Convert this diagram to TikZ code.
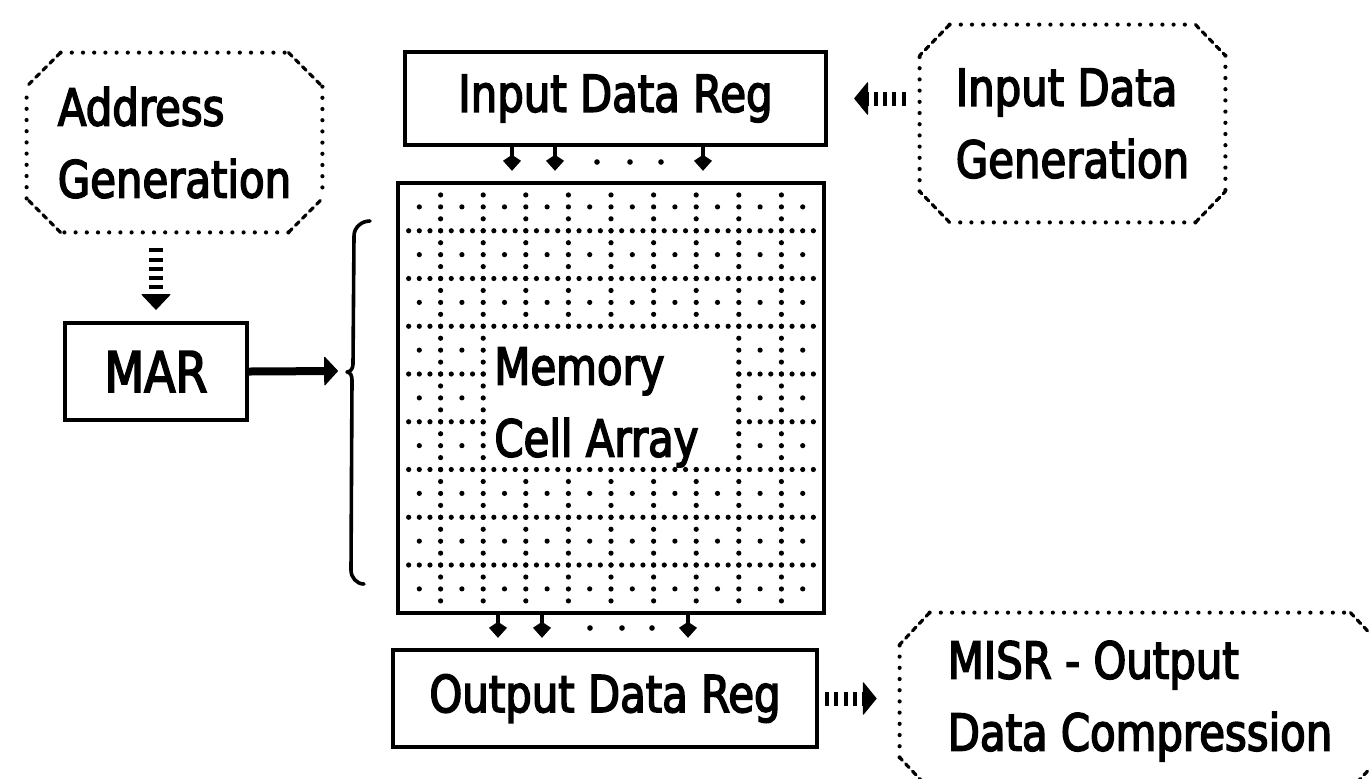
\documentclass[tikz,border=0pt]{standalone}
\usepackage{fontspec}
\newfontfamily\dgfont[FakeStretch=0.82,FakeBold=3]{DejaVu Sans}
\usetikzlibrary{arrows.meta,calc}
\newcommand\chamferbox[3]{%
  \draw[dotline] ($(#1.north west)+(#2,0)$) -- ($(#1.north east)+(-#2,0)$);
  \draw[dotline] ($(#1.north east)+(0,#3)$) -- ($(#1.south east)+(0,-#3)$);
  \draw[dotline] ($(#1.south east)+(-#2,0)$) -- ($(#1.south west)+(#2,0)$);
  \draw[dotline] ($(#1.south west)+(0,-#3)$) -- ($(#1.north west)+(0,#3)$);
  \draw[diagline] ($(#1.north west)+(#2,0)$) -- ($(#1.north west)+(0,#3)$);
  \draw[diagline] ($(#1.north east)+(-#2,0)$) -- ($(#1.north east)+(0,#3)$);
  \draw[diagline] ($(#1.south east)+(-#2,0)$) -- ($(#1.south east)+(0,-#3)$);
  \draw[diagline] ($(#1.south west)+(#2,0)$) -- ($(#1.south west)+(0,-#3)$);
}
\begin{document}
\begin{tikzpicture}[x=0.5pt,y=-0.5pt,
  lblfont/.style={font=\dgfont\fontsize{25.5}{36}\selectfont},
  txt/.style={lblfont, inner sep=0pt, align=left},
  regbox/.style={lblfont, draw, line width=2.2pt, inner sep=0pt},
  genbox/.style={lblfont, inner sep=0pt, align=left},
  dotline/.style={line width=2.1pt, line cap=round, dash pattern=on 0pt off 5.6pt},
  diagline/.style={line width=1.6pt, line cap=round, dash pattern=on 2.5pt off 2.5pt},
  hflow/.style={line width=7pt, dash pattern=on 2pt off 2.6pt,
    -{Triangle[width=17pt,length=7pt,line width=0.5pt,round]}},
  vflow/.style={line width=7pt, dash pattern=on 2pt off 2.6pt,
    -{Triangle[width=15pt,length=8pt,line width=0.5pt,round]}},
  busarrow/.style={line width=4pt, -{Triangle[width=15pt,length=7pt,line width=0.5pt,round]}},
  bitarrow/.style={line width=1.8pt, -{Kite[width=9pt,length=8pt,inset=3pt]}},
  bracepath/.style={line width=1.8pt, line cap=round, line join=round}
]
\useasboundingbox (0,0) rectangle (1369,778);
\fill[white] (0,0) rectangle (1369,778);
\clip (0,0) rectangle (1369,778);

% memory cell grid dots
\foreach \j in {1,...,8}{\foreach \m in {1,...,39}{\fill ({398+10.65*\m},{183+47.75*\j}) circle[radius=1.3pt];}}
\foreach \k in {1,...,9}{\foreach \m in {1,...,35}{\fill ({398+42.6*\k},{183+11.94*\m}) circle[radius=1.3pt];}}
\foreach \k in {0,...,9}{\foreach \j in {0,...,8}{\fill ({398+42.6*(\k+0.5)},{183+47.75*(\j+0.5)}) circle[radius=1.3pt];}}
\fill[white] (488,331) rectangle (734,465);
\node[txt, anchor=north west] (memtext) at (494,347) {Memory\\Cell Array};

% boxes
\node[regbox, minimum width=210.5pt, minimum height=46.5pt] (idr) at (615.5,98.5) {Input Data Reg};
\node[regbox, minimum width=213pt, minimum height=215pt] (mem) at (611,398) {};
\node[regbox, minimum width=212pt, minimum height=48.5pt] (odr) at (605,698.5) {Output Data Reg};
\node[regbox, minimum width=91pt, minimum height=48.5pt, font=\dgfont\fontsize{28}{36}\selectfont] (mar) at (156,371.5) {MAR};
\node[genbox, minimum width=147.5pt, minimum height=89.5pt] (addr) at (174.5,142.5) {Address\\Generation};
\node[genbox, minimum width=152.5pt, minimum height=98.5pt] (idg) at (1072.5,123.5) {Input Data\\Generation};
\node[genbox, minimum width=240pt, minimum height=88pt] (misr) at (1140,701) {MISR - Output\\Data Compression};

\chamferbox{addr}{34}{34}
\chamferbox{idg}{30}{31}
\chamferbox{misr}{30}{32}

% brace
\coordinate (bracetip) at (338,371);
\draw[bracepath] (370,221) to[out=180,in=90] (354,236) -- (353,364) to[out=-90,in=0] (347,372) to[out=0,in=90] (352,380) -- (351,570) to[out=-90,in=180] (364,584);

% connectors
\draw[vflow, shorten <=8pt, shorten >=5.5pt] (addr.south -| mar.north) -- (mar.north);
\draw[busarrow] (mar.east) -- (bracetip);
\draw[hflow, shorten <=7pt, shorten >=13pt] (idg.west |- idr.east) -- (idr.east);
\draw[hflow, shorten <=3pt, shorten >=11.5pt] (odr.east) -- (odr.east -| misr.west);

\foreach \x in {512,555,703}{\draw[bitarrow, shorten >=5pt] (idr.south -| \x,0) -- (mem.north -| \x,0);}
\foreach \x in {597,630,661}{\fill (\x,162) circle[radius=1.4pt];}
\foreach \x in {498,542,688}{\draw[bitarrow, shorten >=5pt] (mem.south -| \x,0) -- (odr.north -| \x,0);}
\foreach \x in {590,622,652}{\fill (\x,628) circle[radius=1.4pt];}
\end{tikzpicture}
\end{document}
